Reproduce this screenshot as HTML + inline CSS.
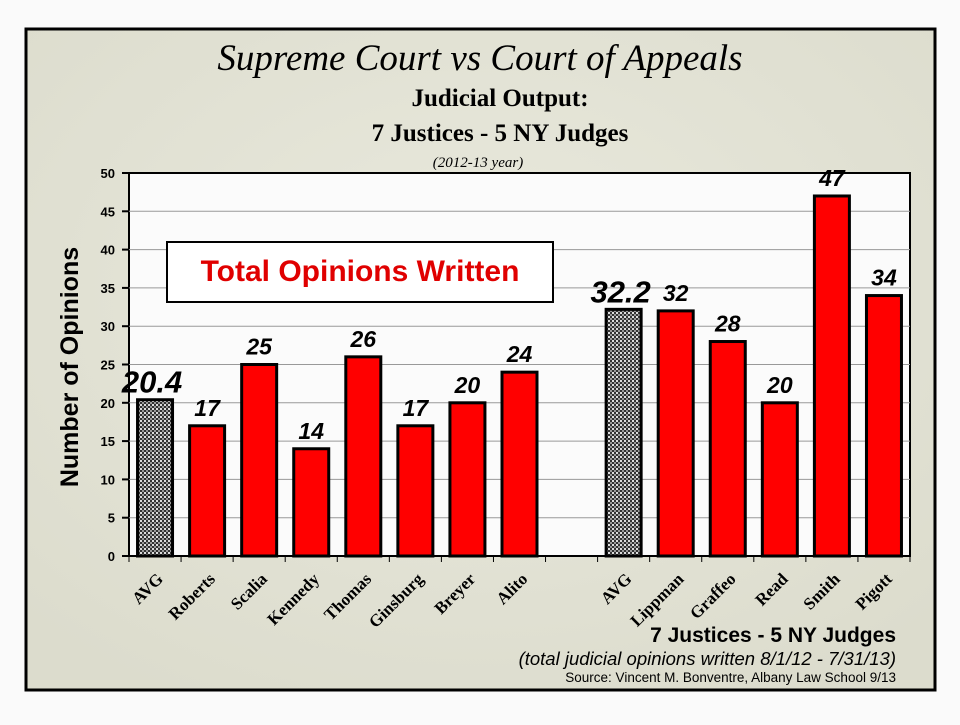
<!DOCTYPE html>
<html><head><meta charset="utf-8"><style>
body{margin:0;background:#fafafa;width:960px;height:720px;overflow:hidden}
</style></head><body>
<svg width="960" height="720" xmlns="http://www.w3.org/2000/svg">
<defs>
<radialGradient id="bg" cx="50%" cy="40%" r="70%"><stop offset="0" stop-color="#e9e9dd"/><stop offset="1" stop-color="#dcdccd"/></radialGradient>
<pattern id="dots" width="4" height="4" patternUnits="userSpaceOnUse"><rect width="4" height="4" fill="#333"/><rect x="0" y="0" width="2" height="2" fill="#ddd"/><rect x="2" y="2" width="2" height="2" fill="#999"/></pattern>
</defs>
<rect x="26" y="29" width="909" height="661" fill="url(#bg)" stroke="#000" stroke-width="3"/>
<text x="480" y="70" text-anchor="middle" font-family="Liberation Serif" font-style="italic" font-size="37">Supreme Court vs Court of Appeals</text>
<text x="500" y="106" text-anchor="middle" font-family="Liberation Serif" font-weight="bold" font-size="25">Judicial Output:</text>
<text x="500" y="141" text-anchor="middle" font-family="Liberation Serif" font-weight="bold" font-size="25">7 Justices - 5 NY Judges</text>
<text x="478" y="167" text-anchor="middle" font-family="Liberation Serif" font-style="italic" font-size="15">(2012-13 year)</text>
<rect x="129" y="173" width="781" height="383" fill="#fbfbfb" stroke="#000" stroke-width="2"/>
<g id="grid"></g>
<g id="bars"></g>
<text transform="translate(78,367) rotate(-90)" text-anchor="middle" font-family="Liberation Sans" font-weight="bold" font-size="25">Number of Opinions</text>
<rect x="167" y="242" width="386" height="60" fill="#fff" stroke="#000" stroke-width="2"/>
<text x="360" y="281" text-anchor="middle" fill="#e00000" font-family="Liberation Sans" font-weight="bold" font-size="30">Total Opinions Written</text>
<text x="896" y="642" text-anchor="end" font-family="Liberation Sans" font-weight="bold" font-size="21">7 Justices - 5 NY Judges</text>
<text x="896" y="665" text-anchor="end" font-family="Liberation Sans" font-style="italic" font-size="18.5">(total judicial opinions written 8/1/12 - 7/31/13)</text>
<text x="896" y="682" text-anchor="end" font-family="Liberation Sans" font-size="13.5">Source:  Vincent M. Bonventre,  Albany Law School  9/13</text>
</svg>
<script>
const categories=["AVG","Roberts","Scalia","Kennedy","Thomas","Ginsburg","Breyer","Alito","","AVG","Lippman","Graffeo","Read","Smith","Pigott"];
const values=[20.4,17,25,14,26,17,20,24,null,32.2,32,28,20,47,34];
const valueLabels=["20.4","17","25","14","26","17","20","24","","32.2","32","28","20","47","34"];
const isAvg=[true,false,false,false,false,false,false,false,false,true,false,false,false,false,false];
const yTicks=[0,5,10,15,20,25,30,35,40,45,50];
const NS="http://www.w3.org/2000/svg";
const X0=129,X1=910,Y0=556,Y1=173,YMAX=50;
const slot=(X1-X0)/categories.length;
const y=v=>Y0-(v/YMAX)*(Y0-Y1);
const xc=i=>X0+slot*(i+0.5);
function mk(tag,attrs,parent){const e=document.createElementNS(NS,tag);for(const k in attrs)e.setAttribute(k,attrs[k]);parent.appendChild(e);return e;}
const grid=document.getElementById('grid'),bars=document.getElementById('bars');
yTicks.forEach(t=>{
  if(t>0&&t<YMAX){const l=mk('line',{x1:X0,x2:X1,y1:y(t),y2:y(t),stroke:'#999','stroke-width':1},grid);
  
  }
  const tk=mk('line',{x1:X0-7,x2:X0,y1:y(t),y2:y(t),stroke:'#000','stroke-width':2},grid);
  
  
  const tx=mk('text',{x:X0-14,y:y(t)+5,'text-anchor':'end','font-family':'Liberation Sans','font-weight':'bold','font-size':13},grid);
  tx.textContent=t;
  
  
});
for(let i=0;i<=categories.length;i++){
  const tk=mk('line',{x1:X0+slot*i,x2:X0+slot*i,y1:Y0,y2:Y0+6,stroke:'#000','stroke-width':1},grid);
  
  
}
const bw=35;
categories.forEach((c,i)=>{
  if(values[i]!==null){
    const b=mk('rect',{x:xc(i)-bw/2,y:y(values[i]),width:bw,height:Y0-y(values[i]),fill:isAvg[i]?'url(#dots)':'#ff0000',stroke:'#000','stroke-width':3},bars);
    
    
    const lt=mk('text',{x:xc(i)-(isAvg[i]?3:0),y:y(values[i])-(isAvg[i]?7:10),'text-anchor':'middle','font-family':'Liberation Sans','font-weight':'bold','font-style':'italic','font-size':isAvg[i]?31:23},bars);
    lt.textContent=valueLabels[i];
    
    
  }
  if(c){
    const tx=mk('text',{transform:`translate(${xc(i)+9},${Y0+24}) rotate(-45)`,'text-anchor':'end','font-family':'Liberation Serif','font-weight':'bold','font-size':17},bars);
    tx.textContent=c;
    
    
  }
});
</script>
</body></html>
